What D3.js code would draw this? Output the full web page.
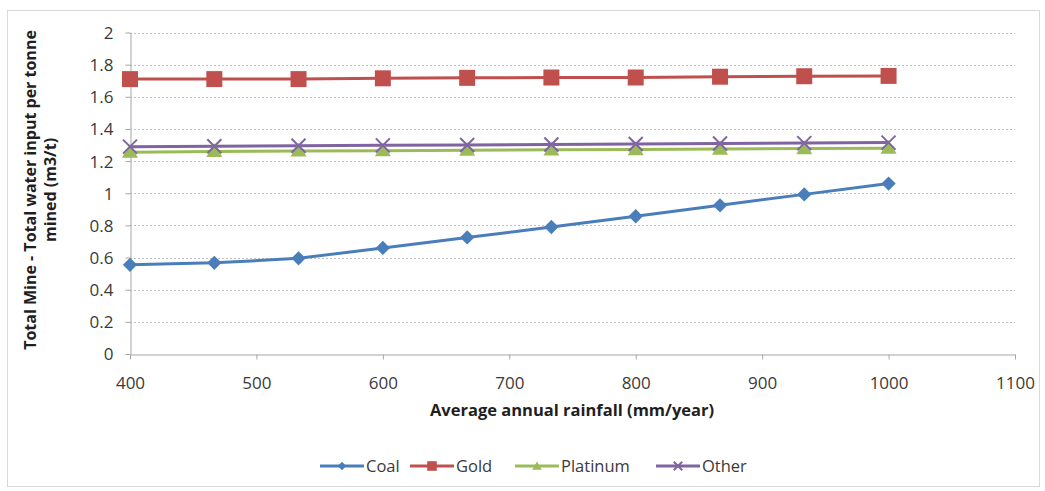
<!DOCTYPE html>
<html><head><meta charset="utf-8">
<script src="https://cdn.jsdelivr.net/npm/d3@7"></script>
<style>body{margin:0;background:#fff;}svg{display:block;font-family:"Open Sans","Noto Sans",sans-serif;}</style>
</head><body>
<svg id="c" width="1045" height="491"></svg>
<script>
const rainfall = [400, 466.7, 533.3, 600, 666.7, 733.3, 800, 866.7, 933.3, 1000];
const coal = [0.555, 0.567, 0.595, 0.66, 0.725, 0.79, 0.857, 0.925, 0.993, 1.06];
const gold = [1.71, 1.71, 1.71, 1.715, 1.718, 1.72, 1.72, 1.725, 1.728, 1.73];
const platinum = [1.255, 1.26, 1.263, 1.265, 1.268, 1.27, 1.272, 1.275, 1.278, 1.28];
const other = [1.29, 1.292, 1.295, 1.298, 1.3, 1.303, 1.306, 1.309, 1.312, 1.315];
const seriesNames = ["Coal", "Gold", "Platinum", "Other"];
const xTicks = [400, 500, 600, 700, 800, 900, 1000, 1100];
const yTicks = [0, 0.2, 0.4, 0.6, 0.8, 1, 1.2, 1.4, 1.6, 1.8, 2];

const series = [
  {name: "Coal", values: coal, color: "#4a7ebb", marker: "diamond"},
  {name: "Gold", values: gold, color: "#c0504d", marker: "square"},
  {name: "Platinum", values: platinum, color: "#9bbb59", marker: "triangle"},
  {name: "Other", values: other, color: "#8064a2", marker: "x"}
];

const svg = d3.select("#c");
svg.append("rect").attr("x", 7.5).attr("y", 10.5).attr("width", 1032).attr("height", 476)
  .attr("fill", "#fff").attr("stroke", "#d9d9d9");

const x = d3.scaleLinear().domain([400, 1100]).range([130, 1015]);
const y = d3.scaleLinear().domain([0, 2]).range([354, 32.5]);

// gridlines
svg.append("g").selectAll("line").data(yTicks.filter(d => d > 0)).join("line")
  .attr("x1", x(400)).attr("x2", x(1100))
  .attr("y1", d => Math.round(y(d)) + 0.5).attr("y2", d => Math.round(y(d)) + 0.5)
  .attr("stroke", "#bfbfbf").attr("stroke-dasharray", "2,2").attr("stroke-width", 1);

// axes
const xAxis = svg.append("g").attr("transform", `translate(0,${Math.round(y(0)) + 0.5})`)
  .call(d3.axisBottom(x).tickValues(xTicks).tickSize(5).tickSizeOuter(0).tickFormat(d3.format("d")));
const yAxis = svg.append("g").attr("transform", `translate(${Math.round(x(400)) + 0.5},0)`)
  .call(d3.axisLeft(y).tickValues(yTicks).tickSize(5).tickSizeOuter(0).tickFormat(d => d3.format("")(d)));
[xAxis, yAxis].forEach(a => {
  a.select(".domain").attr("stroke", "#a6a6a6");
  a.selectAll(".tick line").attr("stroke", "#a6a6a6");
  a.selectAll("text").attr("fill", "#3a3a3a").style("font-size", "17px").style("font-family", "'Open Sans','Noto Sans',sans-serif");
});
xAxis.selectAll("text").attr("dy", "0").attr("y", 34);
yAxis.selectAll("text").attr("x", -17).attr("dy", "0.35em");

// lines
const line = d3.line().x((d, i) => x(rainfall[i])).y(d => y(d));
series.forEach(s => {
  svg.append("path").datum(s.values).attr("d", line).attr("fill", "none")
    .attr("stroke", s.color).attr("stroke-width", 3);
});

function drawMarker(g, type, color, cx, cy, scale) {
  const k = scale || 1;
  if (type === "diamond") {
    g.append("path").attr("d", d3.symbol(d3.symbolDiamond2, 130 * k * k)()).attr("transform", `translate(${cx},${cy})`).attr("fill", color);
  } else if (type === "square") {
    g.append("rect").attr("x", cx - 8 * k).attr("y", cy - 8 * k).attr("width", 16 * k).attr("height", 16 * k).attr("fill", color);
  } else if (type === "triangle") {
    g.append("path").attr("d", d3.symbol(d3.symbolTriangle, 110 * k * k)()).attr("transform", `translate(${cx},${cy + 1})`).attr("fill", color);
  } else {
    const r = 7 * k;
    g.append("path").attr("d", `M${cx - r},${cy - r}L${cx + r},${cy + r}M${cx - r},${cy + r}L${cx + r},${cy - r}`)
      .attr("stroke", color).attr("stroke-width", 2).attr("fill", "none");
  }
}

// markers
const mg = svg.append("g");
series.forEach(s => {
  s.values.forEach((v, i) => drawMarker(mg, s.marker, s.color, x(rainfall[i]), y(v)));
});

// axis titles
svg.append("text").attr("x", 572).attr("y", 416).attr("text-anchor", "middle")
  .style("font-size", "16.5px").style("font-weight", "bold").attr("fill", "#1f1f1f")
  .text("Average annual rainfall (mm/year)");
const yt = svg.append("text").attr("transform", "translate(0,190) rotate(-90)").attr("text-anchor", "middle")
  .style("font-size", "16px").style("font-weight", "bold").attr("fill", "#1f1f1f");
yt.append("tspan").attr("x", 0).attr("y", 36).text("Total Mine - Total water input per tonne");
yt.append("tspan").attr("x", 0).attr("y", 56).text("mined (m3/t)");

// legend
const legendX = [320, 410, 515, 656];
const lg = svg.append("g");
series.forEach((s, i) => {
  const lx = legendX[i], ly = 466;
  lg.append("line").attr("x1", lx).attr("x2", lx + 44).attr("y1", ly).attr("y2", ly).attr("stroke", s.color).attr("stroke-width", 3);
  drawMarker(lg, s.marker, s.color, lx + 22, ly, 0.6);
  lg.append("text").attr("x", lx + 46).attr("y", ly).attr("dy", "0.35em").style("font-size", "16.5px").attr("fill", "#3a3a3a").text(seriesNames[i]);
});
</script>
</body></html>
